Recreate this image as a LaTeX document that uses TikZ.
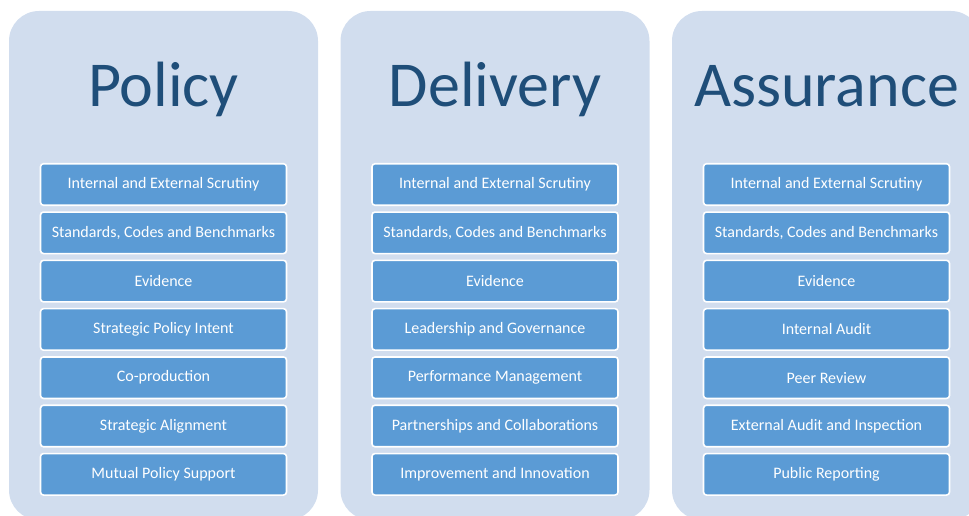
\documentclass[tikz,border=0pt]{standalone}
\usepackage{fontspec}
\setmainfont{Carlito}
\definecolor{colbg}{HTML}{D1DDEE}
\definecolor{boxfill}{HTML}{5B9BD5}
\definecolor{titlecol}{HTML}{1F4E79}
\begin{document}
\begin{tikzpicture}[x=1pt,y=-1pt,
  column/.style={fill=colbg, rounded corners=30pt},
  titletext/.style={text=titlecol, font=\fontsize{64}{66}\selectfont, anchor=base},
  itembox/.style={fill=boxfill, draw=white, line width=1.6pt, rounded corners=3pt,
     minimum width=246pt, minimum height=41.5pt, text=white, font=\fontsize{16}{18}\selectfont, inner sep=0pt}
]
\useasboundingbox (0,0) rectangle (969,516);
\clip (0,0) rectangle (969,516);
\foreach \cx/\nm in {163.5/pol,495/del,826.5/ass}{
  \path[column] (\cx-154.5,11) rectangle (\cx+154.5,520);
}
\node[titletext] (tpol) at (163.5,107) {Policy};
\node[titletext] (tdel) at (495,107) {Delivery};
\node[titletext] (tass) at (826.5,107) {Assurance};
% Policy
\node[itembox] (p1) at (163.5,184.5) {Internal and External Scrutiny};
\node[itembox] (p2) at (163.5,232.8) {Standards, Codes and Benchmarks};
\node[itembox] (p3) at (163.5,281.1) {Evidence};
\node[itembox] (p4) at (163.5,329.4) {Strategic Policy Intent};
\node[itembox] (p5) at (163.5,377.7) {Co-production};
\node[itembox] (p6) at (163.5,426) {Strategic Alignment};
\node[itembox] (p7) at (163.5,474.3) {Mutual Policy Support};
% Delivery
\node[itembox] (d1) at (495,184.5) {Internal and External Scrutiny};
\node[itembox] (d2) at (495,232.8) {Standards, Codes and Benchmarks};
\node[itembox] (d3) at (495,281.1) {Evidence};
\node[itembox] (d4) at (495,329.4) {Leadership and Governance};
\node[itembox] (d5) at (495,377.7) {Performance Management};
\node[itembox] (d6) at (495,426) {Partnerships and Collaborations};
\node[itembox] (d7) at (495,474.3) {Improvement and Innovation};
% Assurance
\node[itembox] (a1) at (826.5,184.5) {Internal and External Scrutiny};
\node[itembox] (a2) at (826.5,232.8) {Standards, Codes and Benchmarks};
\node[itembox] (a3) at (826.5,281.1) {Evidence};
\node[itembox] (a4) at (826.5,329.4) {Internal Audit};
\node[itembox] (a5) at (826.5,377.7) {Peer Review};
\node[itembox] (a6) at (826.5,426) {External Audit and Inspection};
\node[itembox] (a7) at (826.5,474.3) {Public Reporting};
\end{tikzpicture}
\end{document}
